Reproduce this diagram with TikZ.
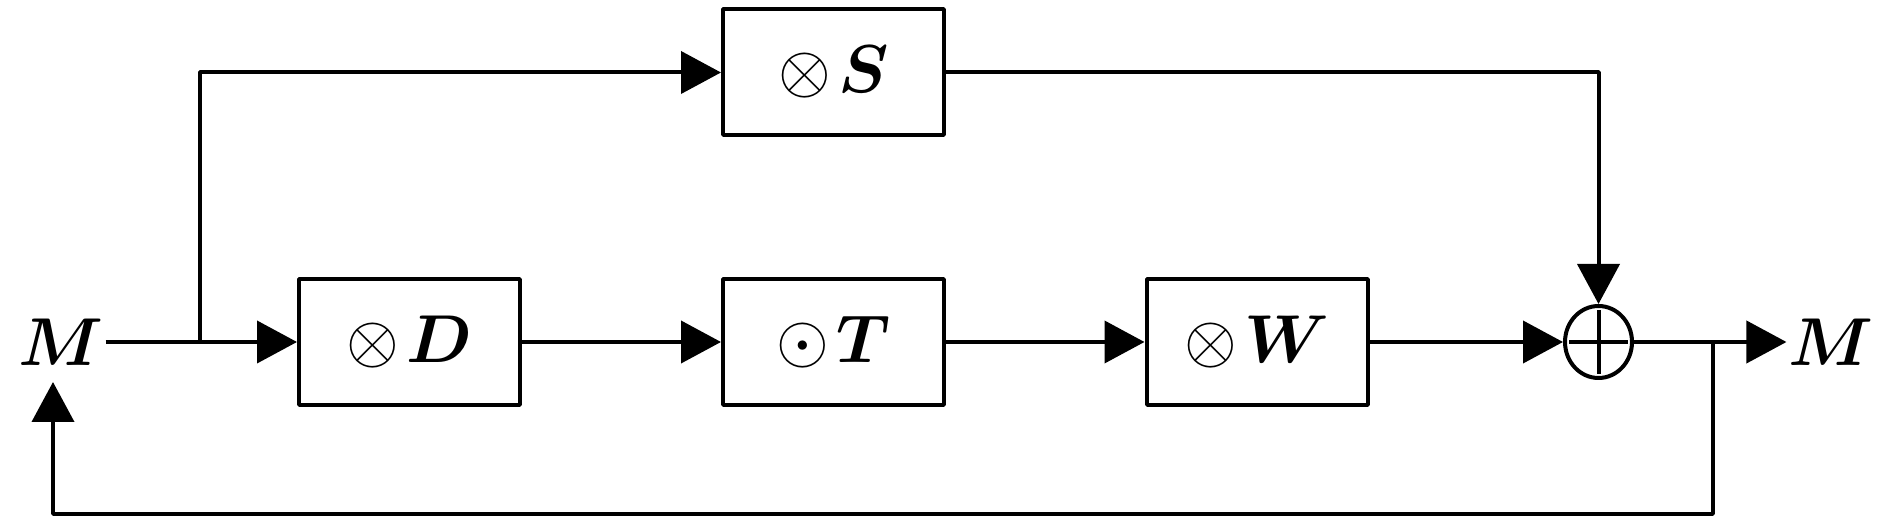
\RequirePackage{fix-cm}
\documentclass[tikz,border=0pt]{standalone}
\usepackage{amsmath, amssymb}
\usepackage{bm}
\usepackage{tikz}
\usetikzlibrary{positioning,arrows.meta,shapes.geometric}

\begin{document}
\begin{tikzpicture}[>={Triangle[length=20bp,width=21bp]},line join=bevel,line width=2bp,
  opbox/.style={draw,minimum width=110.5bp,minimum height=63bp,inner sep=0pt},
  lbl/.style={draw=none,inner xsep=0pt,inner ysep=1.5bp},
  sumnode/.style={ellipse,draw,minimum width=33.5bp,minimum height=36bp,inner sep=0pt},
  font=\fontsize{34}{40}\selectfont]
%%
\useasboundingbox (0bp,0bp) rectangle (945bp,262bp);
\node (Min) at (30.5bp,91bp) [lbl] {$\bm{M}$};
  \node (opD) at (204.75bp,91bp) [opbox] {$\otimes\mkern2mu\bm{D}$};
  \node (opT) at (416.75bp,91bp) [opbox] {$\odot\mkern2mu\bm{T}$};
  \node (opS) at (416.75bp,225.75bp) [opbox] {$\otimes\mkern2mu\bm{S}$};
  \node (opW) at (628.5bp,91bp) [opbox] {$\otimes\mkern2mu\bm{W}$};
  \node (sum) at (799.25bp,91bp) [sumnode] {};
  \node (Mout) at (915.5bp,91bp) [lbl] {$\bm{M}$};
  \coordinate (split) at (100bp,91bp);
  \coordinate (fbsplit) at (856.5bp,91bp);
  \coordinate (fbbot) at (26.5bp,5bp);
  \coordinate (fbtip) at (26.5bp,71bp);
  \draw ([yshift=-3bp]sum.north) -- ([yshift=3bp]sum.south);
  \draw ([xshift=3bp]sum.west) -- ([xshift=-3bp]sum.east);
  \draw [black,->] (Min) -- (opD);
  \draw [black,->] (opD) -- (opT);
  \draw [black,->] (opT) -- (opW);
  \draw [black,->] (opW) -- (sum);
  \draw [black,->] (split) |- (opS);
  \draw [black,->] (opS) -| (sum);
  \draw [black,->] (sum) -- (Mout);
  \draw [black,->] (fbsplit) |- (fbbot) -- (fbtip);
%
\end{tikzpicture}
\end{document}
